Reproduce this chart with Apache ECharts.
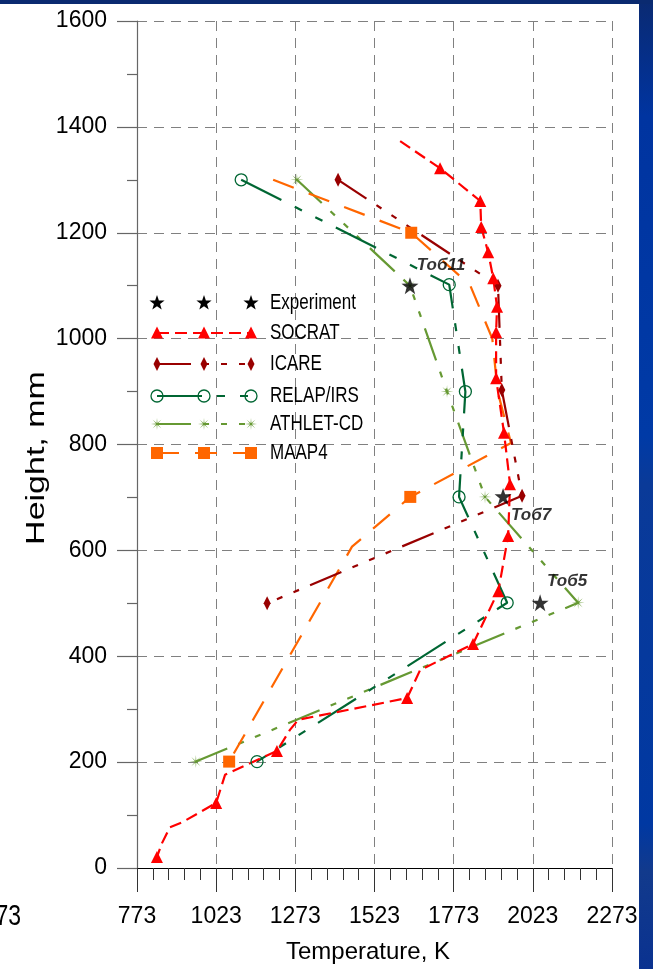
<!DOCTYPE html>
<html>
<head>
<meta charset="utf-8">
<script src="https://cdn.jsdelivr.net/npm/echarts@6/dist/echarts.min.js"></script>
<style>
  html, body { margin: 0; padding: 0; background: #ffffff; }
  #chart { width: 653px; height: 969px; }
</style>
</head>
<body>
<div id="chart"></div>
<script>
// Axis ranges (temperature in K, height in mm)
const tempMin = 773, tempMax = 2273, tempStep = 250;
const heightMin = 0, heightMax = 1600, heightStep = 200;

// Measured bundle temperatures: [T, H]
const expPoints = [[1635, 1100], [1929, 702], [2046, 501]];
const expNames = ['Тоб11', 'Тоб7', 'Тоб5'];

// Code predictions: polyline vertices [T, H]; *Marked lists the vertices that carry a marker
const socratPath = [
  [1604, 1373], [1730, 1322], [1857, 1260], [1860, 1211], [1882, 1163], [1898, 1114],
  [1910, 1060], [1907, 1012], [1907, 925], [1932, 822], [1951, 725], [1945, 627],
  [1914, 523], [1834, 423], [1667, 374], [1626, 321], [1282, 280], [1256, 261],
  [1215, 221], [1051, 176], [1023, 123], [918, 87], [877, 77], [852, 47], [836, 21]
];
const socratMarked = [1, 2, 3, 4, 5, 6, 7, 8, 9, 10, 11, 12, 13, 15, 18, 20, 24];

const icarePath = [[1408, 1300], [1913, 1100], [1925, 903], [1989, 703], [1184, 500]];
const icareMarked = [0, 1, 2, 3, 4];

const relapPath = [[1102, 1300], [1759, 1102], [1810, 900], [1790, 701], [1942, 501], [1152, 201]];
const relapMarked = [0, 1, 2, 3, 4, 5];

const athletPath = [[1278, 1300], [1635, 1100], [1752, 900], [1872, 701], [2166, 501], [959, 201]];
const athletMarked = [0, 1, 2, 3, 4, 5];

const maapPath = [
  [1203, 1300], [1639, 1200], [1825, 1101], [1895, 1000], [1912, 900],
  [1954, 803], [1636, 701], [1452, 607], [1064, 201]
];
const maapMarked = [1, 6, 8];

// Legend entries
const legendNames = ['Experiment', 'SOCRAT', 'ICARE', 'RELAP/IRS', 'ATHLET-CD', 'MAAP4'];

// ---- styling ----
const SANS = "'Liberation Sans', Arial, sans-serif";
const C = {
  exp: '#000000',
  socrat: '#ff0000',
  icare: '#990000',
  relap: '#006633',
  athlet: '#669933',
  maap: '#ff6600',
  grid: '#808080'
};
const DASH = {
  socrat: [12, 6],
  icare: [34, 12, 6, 12, 6, 12, 6, 12],
  relap: [45, 15, 8, 15, 8, 15],
  athlet: [34, 12, 6, 12, 6, 12, 6, 12],
  maap: [22, 16]
};

function starPoints(cx, cy, R, r, n) {
  const pts = [];
  for (let i = 0; i < n * 2; i++) {
    const rad = i % 2 === 0 ? R : r;
    const a = -Math.PI / 2 + i * Math.PI / n;
    pts.push([cx + rad * Math.cos(a), cy + rad * Math.sin(a)]);
  }
  return pts;
}
function pathFrom(pts) {
  return 'path://M' + pts.map(p => p[0].toFixed(2) + ',' + p[1].toFixed(2)).join('L') + 'Z';
}
const STAR = pathFrom(starPoints(10, 10, 10, 3.9, 5));
const ASTER = pathFrom(starPoints(10, 10, 10, 1.6, 8));

function pick(marked, sym) {
  return (v, p) => (marked.indexOf(p.dataIndex) >= 0 ? sym : 'none');
}

function codeSeries(name, path, marked, color, dash, symbol, size, itemStyle) {
  return {
    name: name,
    type: 'line',
    data: path,
    showSymbol: true,
    showAllSymbol: true,
    symbol: pick(marked, symbol),
    symbolSize: size,
    lineStyle: { color: color, width: 2.2, type: dash },
    itemStyle: itemStyle || { color: color },
    emphasis: { disabled: true },
    silent: true,
    z: 3
  };
}

// ---- legend drawn as graphic rows ----
const LX = [157, 204, 251];
const LY = [303, 333, 364, 396, 424, 453];
function legendSymbol(kind, x, y) {
  switch (kind) {
    case 'star':
      return { type: 'polygon', shape: { points: starPoints(x, y, 8, 3.2, 5) }, style: { fill: C.exp }, z: 20 };
    case 'tri':
      return { type: 'polygon', shape: { points: [[x, y - 6.5], [x + 6, y + 5.5], [x - 6, y + 5.5]] }, style: { fill: C.socrat }, z: 20 };
    case 'diamond':
      return { type: 'polygon', shape: { points: [[x, y - 7], [x + 3.5, y], [x, y + 7], [x - 3.5, y]] }, style: { fill: C.icare }, z: 20 };
    case 'circle':
      return { type: 'circle', shape: { cx: x, cy: y, r: 6 }, style: { fill: 'none', stroke: C.relap, lineWidth: 1.3 }, z: 20 };
    case 'aster':
      return { type: 'polygon', shape: { points: starPoints(x, y, 6, 1, 8) }, style: { fill: C.athlet }, z: 20 };
    case 'square':
      return { type: 'rect', shape: { x: x - 6, y: y - 6, width: 12, height: 12 }, style: { fill: C.maap }, z: 20 };
  }
}
const legendRows = [
  { sym: 'star', color: null, dash: null },
  { sym: 'tri', color: C.socrat, dash: DASH.socrat },
  { sym: 'diamond', color: C.icare, dash: DASH.icare },
  { sym: 'circle', color: C.relap, dash: DASH.relap },
  { sym: 'aster', color: C.athlet, dash: DASH.athlet },
  { sym: 'square', color: C.maap, dash: DASH.maap }
];
const legendGraphic = [];
legendRows.forEach((row, i) => {
  const y = LY[i];
  if (row.color) {
    legendGraphic.push({
      type: 'polyline',
      shape: { points: [[LX[0], y], [LX[2], y]] },
      style: { stroke: row.color, lineWidth: 2.2, lineDash: row.dash, fill: null },
      z: 19
    });
  }
  LX.forEach(x => legendGraphic.push(legendSymbol(row.sym, x, y)));
  legendGraphic.push({
    type: 'text', x: 270, y: y, z: 20, scaleY: 1.25,
    style: { text: legendNames[i], font: '17px ' + SANS, fill: '#000', align: 'left', verticalAlign: 'middle' }
  });
});

// ---- slide frame ----
const frameGraphic = [
  { type: 'rect', shape: { x: 639, y: 0, width: 14, height: 969 }, z: 30,
    style: { fill: new echarts.graphic.LinearGradient(0, 0, 0, 1, [
      { offset: 0, color: '#0a2a72' }, { offset: 0.12, color: '#0034a0' },
      { offset: 0.45, color: '#003aa6' }, { offset: 0.5, color: '#0a3a98' },
      { offset: 0.85, color: '#0038a2' }, { offset: 0.9, color: '#123a8c' },
      { offset: 1, color: '#0a3290' }
    ]) } },
  { type: 'rect', shape: { x: 0, y: 0, width: 653, height: 4 }, z: 30, style: { fill: '#0a2a70' } },
  { type: 'text', x: 21, y: 917, z: 5, scaleY: 1.3,
    style: { text: '273', font: '23px ' + SANS, fill: '#000', align: 'right', verticalAlign: 'middle' } },
  { type: 'text', x: 37, y: 458, rotation: Math.PI / 2, scaleX: 1.36, z: 5,
    style: { text: 'Height, mm', font: '25px ' + SANS, fill: '#000', align: 'center', verticalAlign: 'middle' } }
];

const labelOffsets = [[31, -20], [28, 19], [27, -21]];

const chart = echarts.init(document.getElementById('chart'), null, { renderer: 'canvas' });
chart.setOption({
  animation: false,
  backgroundColor: '#ffffff',
  grid: { left: 137, right: 41, top: 21, bottom: 101, containLabel: false },
  xAxis: {
    type: 'value',
    min: tempMin, max: tempMax, interval: tempStep,
    axisLine: { show: true, onZero: false, lineStyle: { color: '#000', width: 1 } },
    axisTick: { show: true, length: 24, lineStyle: { color: '#333', width: 1 } },
    minorTick: { show: true, splitNumber: 5, length: 12, lineStyle: { color: '#333', width: 1 } },
    splitLine: { show: true, lineStyle: { color: C.grid, width: 1, type: [10, 7] } },
    axisLabel: { margin: 37, fontSize: 23, fontFamily: SANS, color: '#000', formatter: v => String(v) },
    name: 'Temperature, K',
    nameLocation: 'middle',
    nameGap: 72,
    nameTextStyle: { fontSize: 24, fontFamily: SANS, color: '#000', padding: [0, 13, 0, 0] }
  },
  yAxis: {
    type: 'value',
    min: heightMin, max: heightMax, interval: heightStep,
    axisLine: { show: true, onZero: false, lineStyle: { color: '#666', width: 1.2 } },
    axisTick: { show: true, length: 20, lineStyle: { color: '#666', width: 1.2 } },
    minorTick: { show: true, splitNumber: 2, length: 10, lineStyle: { color: '#666', width: 1.2 } },
    splitLine: { show: true, lineStyle: { color: C.grid, width: 1, type: [10, 7] } },
    axisLabel: { margin: 30, fontSize: 23, fontFamily: SANS, color: '#000', formatter: v => String(v) }
  },
  series: [
    codeSeries('ATHLET-CD', athletPath, athletMarked, C.athlet, DASH.athlet, ASTER, 13),
    codeSeries('RELAP/IRS', relapPath, relapMarked, C.relap, DASH.relap, 'circle', 12,
      { color: 'rgba(0,0,0,0)', borderColor: C.relap, borderWidth: 1.3 }),
    codeSeries('MAAP4', maapPath, maapMarked, C.maap, DASH.maap, 'rect', 12),
    codeSeries('ICARE', icarePath, icareMarked, C.icare, DASH.icare, 'diamond', [7, 14]),
    codeSeries('SOCRAT', socratPath, socratMarked, C.socrat, DASH.socrat, 'triangle', [12, 12]),
    {
      name: 'Experiment',
      type: 'scatter',
      data: expPoints.map((p, i) => ({
        value: p,
        label: { offset: labelOffsets[i] }
      })),
      symbol: STAR,
      symbolSize: 17,
      itemStyle: { color: C.exp },
      label: {
        show: true,
        position: 'inside',
        align: 'center',
        verticalAlign: 'middle',
        formatter: p => expNames[p.dataIndex],
        fontFamily: SANS,
        fontSize: 17,
        fontWeight: 'bold',
        fontStyle: 'italic',
        color: '#000'
      },
      emphasis: { disabled: true },
      silent: true,
      z: 5
    }
  ],
  graphic: legendGraphic.concat(frameGraphic)
});
</script>
</body>
</html>
